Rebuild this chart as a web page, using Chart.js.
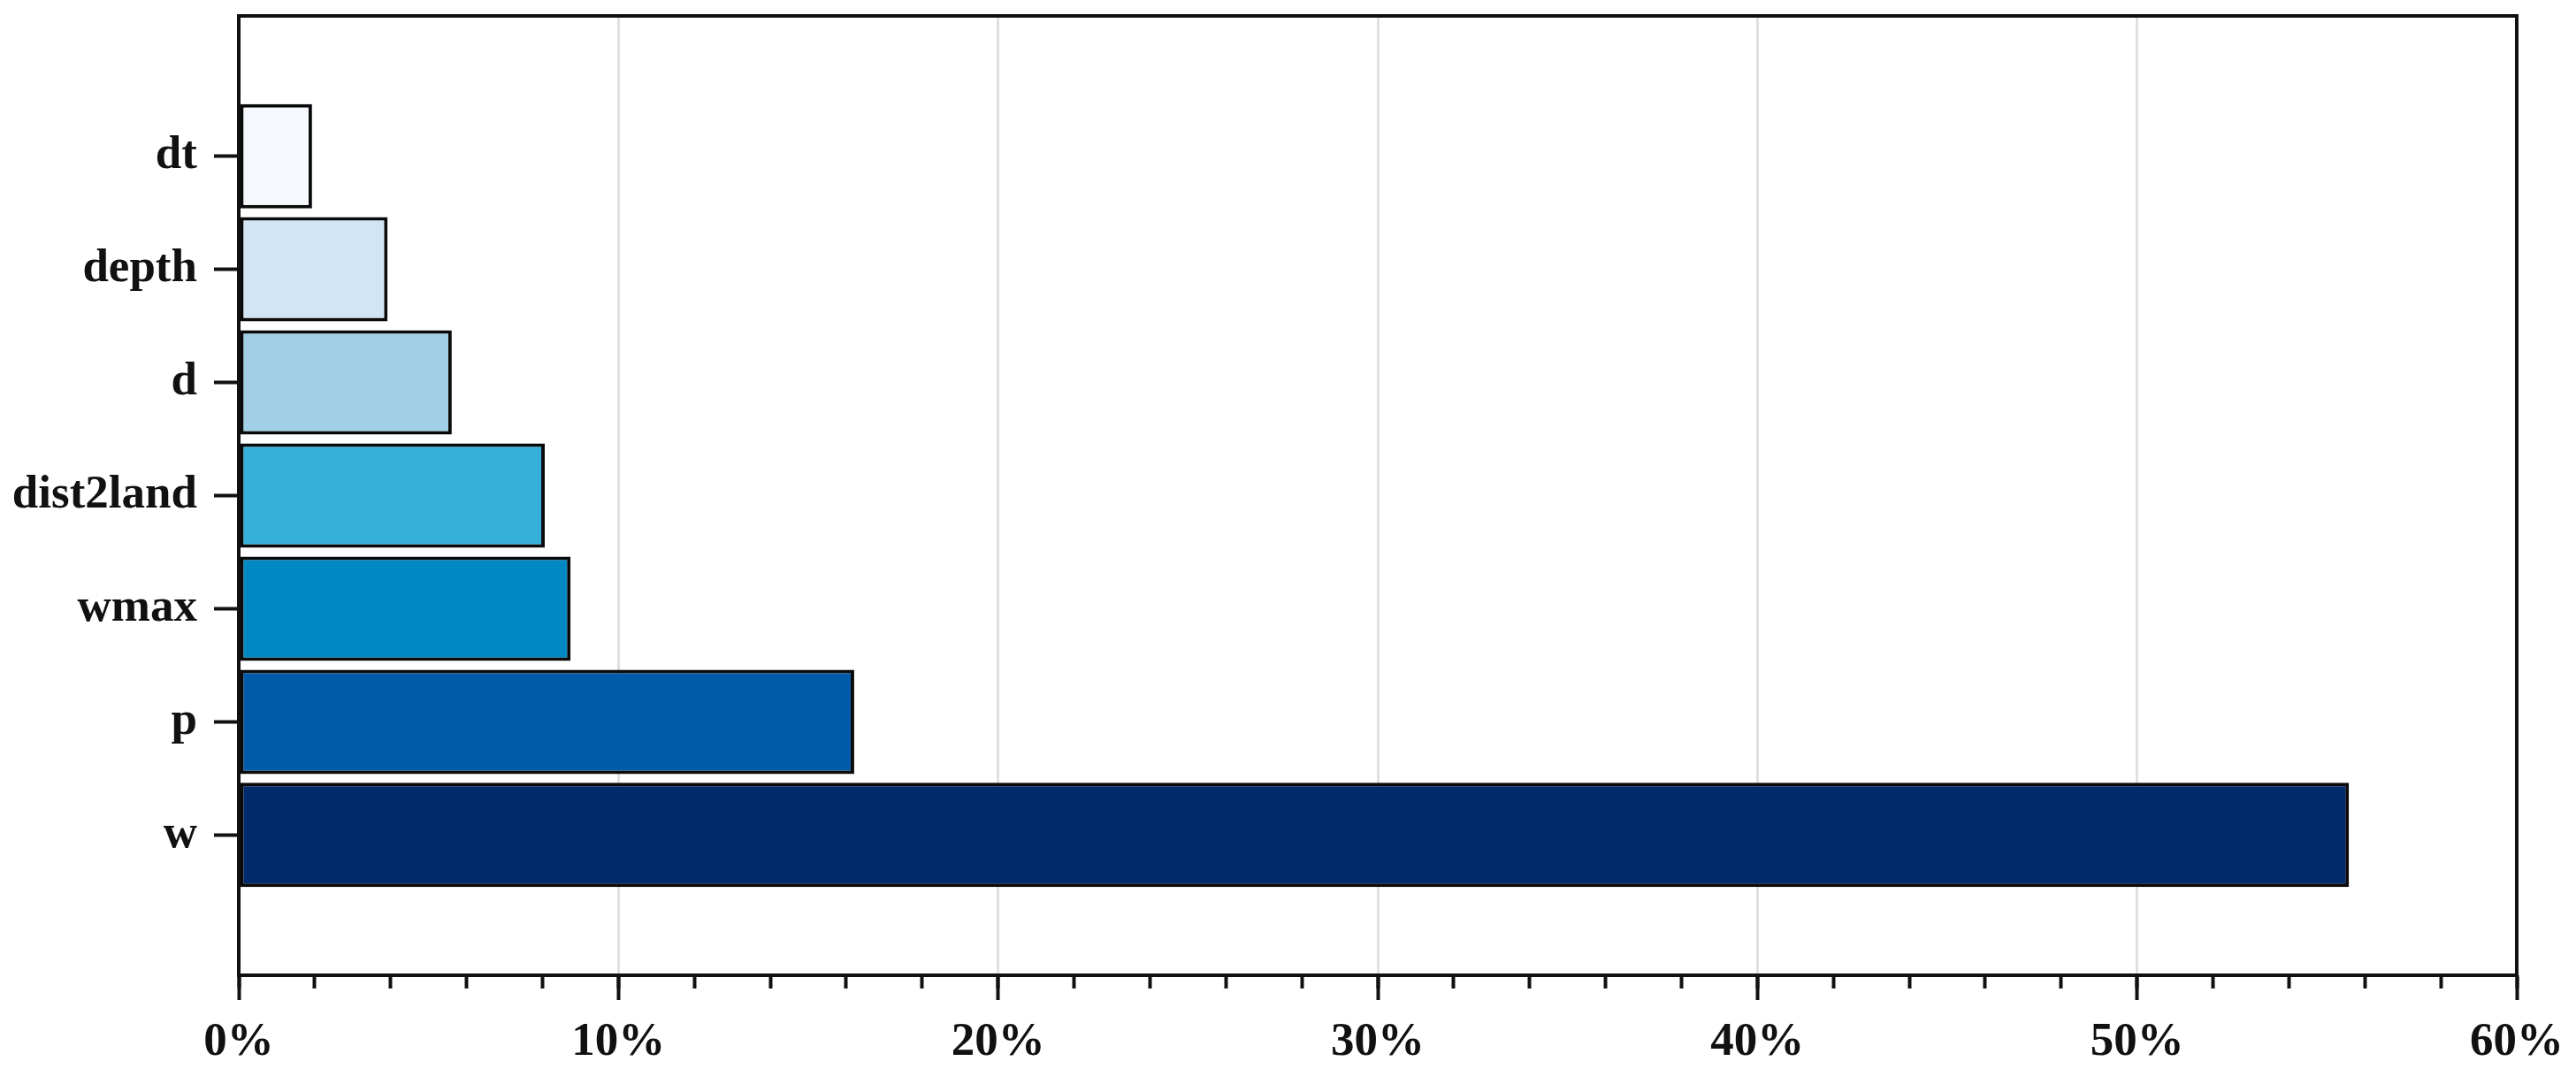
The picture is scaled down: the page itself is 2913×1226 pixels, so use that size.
<!DOCTYPE html>
<html>
<head>
<meta charset="utf-8">
<script src="https://cdn.jsdelivr.net/npm/chart.js@4"></script>
<style>
  html, body { margin: 0; padding: 0; background: #ffffff; }
  #wrap { width: 2913px; height: 1226px; }
</style>
</head>
<body>
<div id="wrap"><canvas id="c" width="2913" height="1226"></canvas></div>
<script>
// ---- data (top to bottom) ----
const categories = ['dt', 'depth', 'd', 'dist2land', 'wmax', 'p', 'w'];
const importance = [1.93, 3.92, 5.61, 8.06, 8.74, 16.21, 55.58];
const barColors = ['#f5f9fe', '#d1e5f4', '#a0cfe6', '#36afdb', '#0088c3', '#005aaa', '#002b6c'];
const xTickStep = 10;
const xMinorStep = 2;
const xMin = 0, xMax = 60;

const FONT = { family: "'Liberation Serif', 'Times New Roman', serif", size: 53, weight: 'bold' };

const framePlugin = {
  id: 'frame',
  afterDraw(chart) {
    const a = chart.chartArea, ctx = chart.ctx;
    ctx.save();
    ctx.strokeStyle = '#111111';
    ctx.lineWidth = 4;
    ctx.strokeRect(a.left, a.top, a.right - a.left, a.bottom - a.top);
    ctx.restore();
  }
};

new Chart(document.getElementById('c'), {
  type: 'bar',
  data: {
    datasets: [{
      data: categories.map((c, i) => ({ y: i, x: importance[i] })),
      backgroundColor: barColors,
      borderColor: '#0a0a0a',
      borderWidth: 4,
      borderSkipped: false,
      barPercentage: 0.922,
      categoryPercentage: 1.0
    }]
  },
  options: {
    indexAxis: 'y',
    responsive: false,
    animation: false,
    devicePixelRatio: 1,
    layout: { padding: { left: 0, top: 18, right: 67, bottom: 0 } },
    plugins: { legend: { display: false }, tooltip: { enabled: false } },
    scales: {
      y: {
        type: 'linear',
        reverse: true,
        offset: false,
        min: -1.24,
        max: 7.24,
        afterBuildTicks(scale) {
          scale.ticks = categories.map((c, i) => ({ value: i }));
        },
        afterFit(scale) {
          scale.width = 270;
          scale.paddingTop = 0;
          scale.paddingBottom = 0;
        },
        ticks: {
          font: FONT,
          color: '#111111',
          padding: 19,
          callback: (v) => categories[v]
        },
        grid: {
          offset: false,
          drawOnChartArea: false,
          drawTicks: true,
          tickLength: 28,
          tickWidth: 4,
          tickColor: '#111111'
        },
        border: { display: true, color: '#111111', width: 4 }
      },
      x: {
        type: 'linear',
        position: 'bottom',
        offset: false,
        min: xMin,
        max: xMax,
        afterFit(scale) {
          scale.height = 123;
          scale.paddingRight = 0;
        },
        ticks: {
          stepSize: xTickStep,
          font: FONT,
          color: '#111111',
          padding: 17,
          maxRotation: 0,
          callback: (v) => v + '%'
        },
        grid: {
          offset: false,
          drawOnChartArea: true,
          color: '#e0e0e0',
          lineWidth: 3,
          drawTicks: true,
          tickLength: 28,
          tickWidth: 4,
          tickColor: '#111111'
        },
        border: { display: true, color: '#111111', width: 4 }
      },
      x2: {
        type: 'linear',
        axis: 'x',
        position: { y: 7.24 },
        offset: false,
        min: xMin,
        max: xMax,
        afterFit(scale) {
          scale.height = 0;
          scale.paddingLeft = 0;
          scale.paddingRight = 0;
        },
        ticks: { stepSize: xMinorStep, display: false },
        grid: {
          offset: false,
          drawOnChartArea: false,
          drawTicks: true,
          tickLength: 15,
          tickWidth: 4,
          tickColor: '#111111'
        },
        border: { display: false }
      }
    }
  },
  plugins: [framePlugin]
});
</script>
</body>
</html>
